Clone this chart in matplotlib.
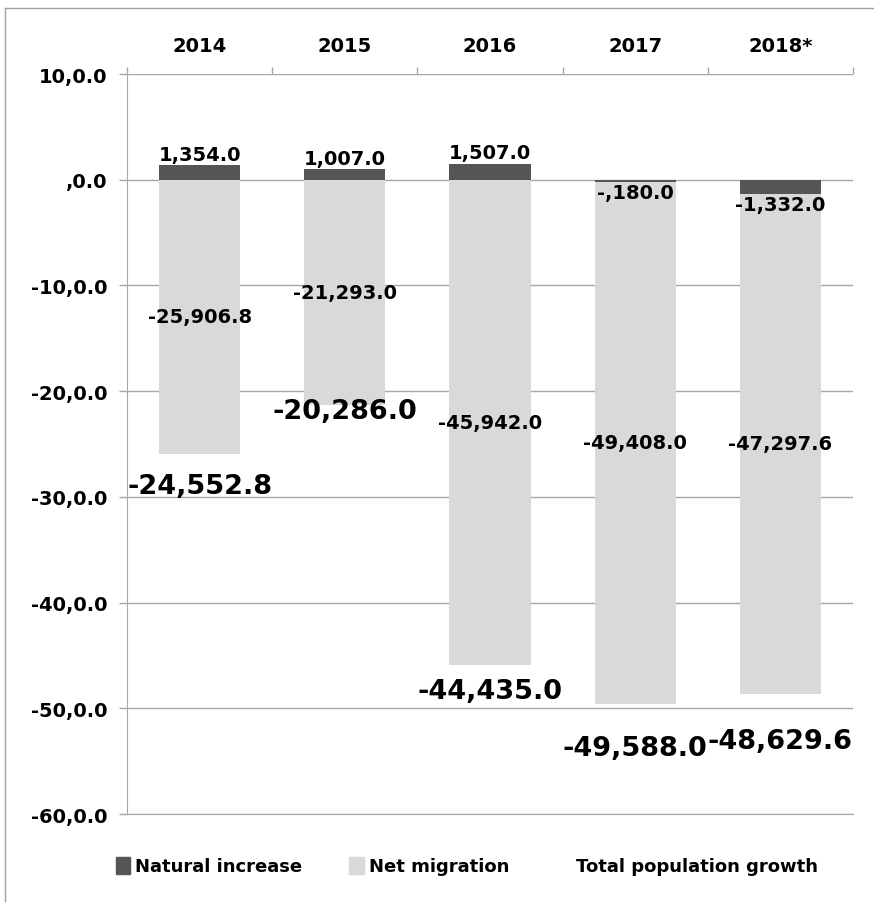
import matplotlib.pyplot as plt
import matplotlib.patches as mpatches
import numpy as np

years = ['2014', '2015', '2016', '2017', '2018*']
natural = [1354.0, 1007.0, 1507.0, -180.0, -1332.0]
migration = [-25906.8, -21293.0, -45942.0, -49408.0, -47297.6]
total = [-24552.8, -20286.0, -44435.0, -49588.0, -48629.6]
yticks = [10, 0, -10, -20, -30, -40, -50, -60]
# how far below the point each total label sits (points); 2015 was moved by hand
total_offset = [-34, -12, -30, -32, -34]

dark = '#555555'
light = '#d9d9d9'
grid = '#a6a6a6'


def fmt(v):
    # mimic the odd Excel format of the source
    s = f'{v:,.1f}'
    if abs(v) < 1000:
        s = s.replace('-', '-,') if v < 0 else s
    return s


def tick_fmt(t):
    return (f'{t}' if t != 0 else '') + ',0.0'


plt.rcParams['font.family'] = ['DejaVu Sans']
plt.rcParams['font.weight'] = 'bold'

fig = plt.figure(figsize=(8.74, 9.03), dpi=100)
ax = fig.add_axes([127 / 874, 1 - 815 / 903, (853 - 127) / 874, (815 - 75) / 903])

x = np.arange(len(years))
nat = np.array(natural) / 1000
mig = np.array(migration) / 1000
tot = np.array(total) / 1000
# migration stacks below the natural part when that part is negative
mig_base = np.where(nat < 0, nat, 0)

w = 0.56
ax.bar(x, nat, w, color=dark, zorder=3)
ax.bar(x, mig, w, bottom=mig_base, color=light, zorder=3)

for i in range(len(years)):
    if nat[i] >= 0:
        ax.annotate(fmt(natural[i]), (x[i], nat[i]), xytext=(0, 1), textcoords='offset points',
                    ha='center', va='bottom', fontsize=14, fontweight='bold', zorder=5)
    else:
        ax.annotate(fmt(natural[i]), (x[i], nat[i]), xytext=(0, -1), textcoords='offset points',
                    ha='center', va='top', fontsize=14, fontweight='bold', zorder=5)
    ax.text(x[i], mig_base[i] + mig[i] / 2, fmt(migration[i]), ha='center', va='center',
            fontsize=14, fontweight='bold', zorder=5)
    ax.annotate(fmt(total[i]), (x[i], tot[i]), xytext=(0, total_offset[i]), textcoords='offset points',
                ha='center', va='center', fontsize=19.5, fontweight='bold', zorder=6)

ax.set_xlim(-0.5, len(years) - 0.5)
ax.set_ylim(-60, 10)
ax.set_yticks(yticks)
ax.set_yticklabels([tick_fmt(t) for t in yticks])
ax.grid(axis='y', color=grid, linewidth=1, zorder=0)

ax.xaxis.tick_top()
ax.set_xticks(np.arange(-0.5, len(years)), labels=[])
ax.set_xticks(x, labels=years, minor=True)
ax.tick_params(axis='x', which='major', direction='out', length=5, color=grid, width=1)
ax.tick_params(axis='x', which='minor', length=0, pad=14, labelsize=14)
ax.tick_params(axis='y', direction='out', length=6, color=grid, width=1, labelsize=14, pad=8)

for s in ['right', 'top']:
    ax.spines[s].set_visible(False)
ax.spines['left'].set_color(grid)
ax.spines['bottom'].set_color(grid)

handles = [mpatches.Patch(color=dark), mpatches.Patch(color=light),
           mpatches.Patch(color='none')]
fig.legend(handles, ['Natural increase', 'Net migration', 'Total population growth'],
           loc='center', bbox_to_anchor=(467 / 874, 1 - 867 / 903), ncol=3, frameon=False,
           prop={'size': 13, 'weight': 'bold'}, handlelength=0.8, handleheight=1.1,
           handletextpad=0.3, columnspacing=2.6)

# outer chart frame (only left and top edges visible in the crop)
fig.add_artist(plt.Line2D([5 / 874, 5 / 874], [0, 1 - 9 / 903], color='#a0a0a0', lw=1))
fig.add_artist(plt.Line2D([5 / 874, 1], [1 - 9 / 903, 1 - 9 / 903], color='#a0a0a0', lw=1))

fig.savefig('out.png', dpi=100)
